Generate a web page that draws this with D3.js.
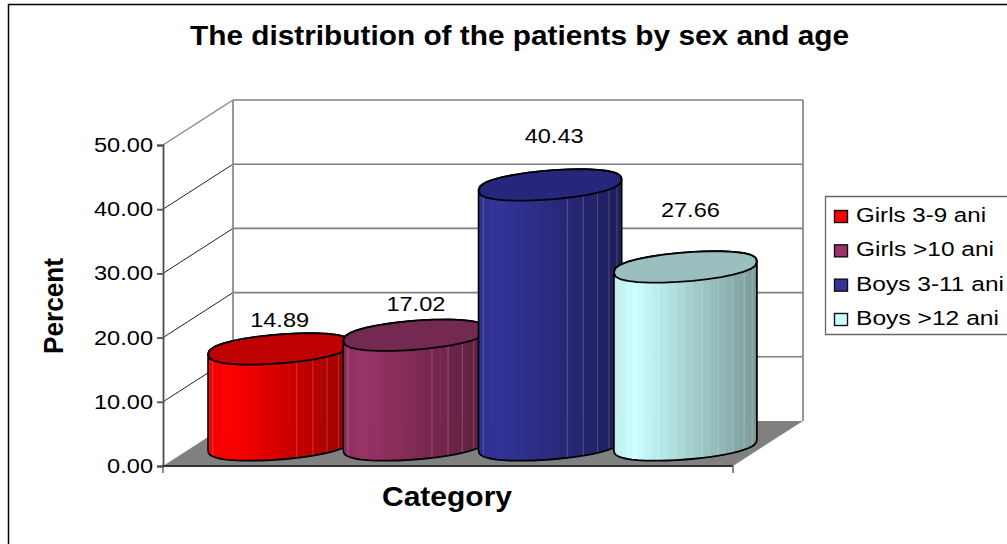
<!DOCTYPE html>
<html>
<head>
<meta charset="utf-8">
<script src="https://cdn.jsdelivr.net/npm/d3@7"></script>
<style>
  html, body { margin: 0; padding: 0; background: #fff; }
  svg { display: block; }
  text { font-family: "Liberation Sans", Arial, sans-serif; fill: #000; }
</style>
</head>
<body>
<div id="chart"></div>
<script>
// chart data
var categories = ["Girls 3-9 ani", "Girls >10 ani", "Boys 3-11 ani", "Boys >12 ani"];
var values = [14.89, 17.02, 40.43, 27.66];
var yTicks = [0, 10, 20, 30, 40, 50];

// styles, one per category
var sideColors = ["#ff0000", "#993366", "#333399", "#ccffff"];
var topColors = ["#bf0000", "#732950", "#26267a", "#99bfbf"];
var labelLift = [21, 23, 41, 49];

var width = 1007, height = 544;
var depthX = 70, depthY = -45;
var barRx = 71.5, facets = 26;

var svg = d3.select("#chart").append("svg")
    .attr("width", width)
    .attr("height", height);
var defs = svg.append("defs");

var y = d3.scaleLinear().domain([0, 50]).range([466, 145]);
var x = d3.scaleBand().domain(categories).range([212, 753]);
var floorLeft = 163, floorRight = 733;

// squeezes or stretches a text to the width it has in the picture
function fitText(sel, w) {
    sel.attr("textLength", w).attr("lengthAdjust", "spacingAndGlyphs");
}

// outer frame, runs off the right and bottom of the picture
svg.append("path")
    .attr("d", "M8.5," + height + "V4.5H" + width)
    .attr("fill", "none").attr("stroke", "#000").attr("stroke-width", 1.5);

// floor
svg.append("path")
    .attr("d", d3.line()([
        [floorLeft, y(0)], [floorRight, y(0)],
        [floorRight + depthX, y(0) + depthY], [floorLeft + depthX, y(0) + depthY]
    ]) + "Z")
    .attr("fill", "#808080");

// side wall lines
svg.append("g").selectAll("line")
    .data(yTicks.slice(1))
    .enter().append("line")
    .attr("x1", floorLeft).attr("x2", floorLeft + depthX)
    .attr("y1", function(d) { return y(d); })
    .attr("y2", function(d) { return y(d) + depthY; })
    .attr("stroke", function(d) { return d == 50 ? "#868686" : "#222"; })
    .attr("stroke-width", function(d) { return d == 50 ? 1.4 : 1; });

// back wall lines
svg.append("g").selectAll("line")
    .data(yTicks.slice(1))
    .enter().append("line")
    .attr("x1", floorLeft + depthX).attr("x2", floorRight + depthX)
    .attr("y1", function(d) { return y(d) + depthY; })
    .attr("y2", function(d) { return y(d) + depthY; })
    .attr("stroke", "#808080").attr("stroke-width", 1.6);

svg.append("g").selectAll("line")
    .data([floorLeft + depthX, floorRight + depthX])
    .enter().append("line")
    .attr("x1", function(d) { return d; }).attr("x2", function(d) { return d; })
    .attr("y1", y(50) + depthY).attr("y2", y(0) + depthY)
    .attr("stroke", "#8c8c8c").attr("stroke-width", 1.8);

// y axis
var yAxis = svg.append("g")
    .attr("transform", "translate(" + floorLeft + ",0)")
    .call(d3.axisLeft(y).tickValues(yTicks).tickSize(6).tickPadding(4).tickFormat(d3.format(".2f")));
yAxis.selectAll("path, line").attr("stroke", "#4d4d4d").attr("stroke-width", 1.8);
yAxis.selectAll("text")
    .attr("font-size", 20.5)
    .each(function() { fitText(d3.select(this), this.getComputedTextLength() * 1.15); });

// x axis
svg.append("line")
    .attr("x1", floorLeft - 1).attr("x2", floorRight)
    .attr("y1", y(0)).attr("y2", y(0))
    .attr("stroke", "#333").attr("stroke-width", 2.2);
svg.append("g").selectAll("line")
    .data([floorLeft, floorRight])
    .enter().append("line")
    .attr("x1", function(d) { return d; }).attr("x2", function(d) { return d; })
    .attr("y1", y(0)).attr("y2", y(0) + 7)
    .attr("stroke", "#666").attr("stroke-width", 1.5);

// points of the tilted ellipse, from angle a0 to a1. The power keeps the
// ends a bit fuller, like the cylinders in the picture
function ellipsePoints(cx, cy, a0, a1, n) {
    return d3.range(n + 1).map(function(i) {
        var a = a0 + (a1 - a0) * i / n;
        var c = Math.cos(a), s = Math.sin(a);
        var sp = (s < 0 ? -1 : 1) * Math.pow(Math.abs(s), 0.8);
        return [cx + barRx * c, cy + 14.5 * sp - 5.5 * c];
    });
}

var bars = svg.append("g").selectAll("g")
    .data(categories)
    .enter().append("g");

bars.each(function(c, i) {
    var g = d3.select(this);
    var cx = x(c) + x.bandwidth() / 2;
    var cyTop = y(values[i]) + depthY / 2 + 1;
    var cyBottom = y(0) + depthY / 2 + 1.5;
    var line = d3.line();

    var outline = line(ellipsePoints(cx, cyBottom, 0, Math.PI, 26)
        .concat(ellipsePoints(cx, cyTop, Math.PI, 2 * Math.PI, 26))) + "Z";

    defs.append("clipPath").attr("id", "body" + i)
        .append("path").attr("d", outline);

    // facets of the cylinder side, light on the left and dark on the right
    var shade = d3.scaleLinear().domain([0, 0.14, 1]).range([0.93, 1, 0.6]);
    var edges = d3.range(facets + 1).map(function(k) {
        return cx - barRx * Math.cos(Math.PI * k / facets);
    });
    var base = d3.rgb(sideColors[i]);
    var side = g.append("g").attr("clip-path", "url(#body" + i + ")");
    side.selectAll("rect")
        .data(d3.range(facets))
        .enter().append("rect")
        .attr("x", function(k) { return edges[k]; })
        .attr("width", function(k) { return edges[k + 1] - edges[k] + 0.6; })
        .attr("y", cyTop - 30)
        .attr("height", cyBottom - cyTop + 60)
        .attr("fill", function(k) {
            var s = shade((edges[k] + edges[k + 1]) / 2 / (2 * barRx) - (cx - barRx) / (2 * barRx));
            return d3.rgb(base.r * s, base.g * s, base.b * s);
        });
    // thin light seams between some facets
    side.selectAll("line")
        .data(edges.filter(function(e, k) { return k > 0 && k < facets && (k < 4 || k > 14) && k % 2 == 1; }))
        .enter().append("line")
        .attr("x1", function(d) { return d; }).attr("x2", function(d) { return d; })
        .attr("y1", cyTop - 30).attr("y2", cyBottom + 30)
        .attr("stroke", "#fff").attr("stroke-opacity", 0.2).attr("stroke-width", 1);

    g.append("path")
        .attr("d", outline)
        .attr("fill", "none").attr("stroke", "#000").attr("stroke-width", 1.8).attr("stroke-linejoin", "round");

    g.append("path")
        .attr("d", line(ellipsePoints(cx, cyTop, 0, 2 * Math.PI, 30)) + "Z")
        .attr("fill", topColors[i])
        .attr("stroke", "#000").attr("stroke-width", 1.8).attr("stroke-linejoin", "round");
});

// value labels
svg.append("g").selectAll("text")
    .data(values)
    .enter().append("text")
    .attr("x", function(d, i) { return x(categories[i]) + x.bandwidth() / 2 + [0, 1, 4, 5][i]; })
    .attr("y", function(d, i) { return y(d) + depthY / 2 - labelLift[i]; })
    .attr("text-anchor", "middle")
    .attr("font-size", 20.5)
    .text(function(d) { return d3.format(".2f")(d); })
    .each(function() { fitText(d3.select(this), 59); });

// titles
svg.append("text")
    .attr("x", 190).attr("y", 45)
    .attr("font-size", 27).attr("font-weight", "bold")
    .text("The distribution of the patients by sex and age")
    .call(fitText, 659);
svg.append("text")
    .attr("x", 382).attr("y", 506)
    .attr("font-size", 27).attr("font-weight", "bold")
    .text("Category")
    .call(fitText, 130);
svg.append("text")
    .attr("transform", "translate(63,354) rotate(-90)")
    .attr("font-size", 27).attr("font-weight", "bold")
    .text("Percent")
    .call(fitText, 96);

// legend
var legendWidths = [130, 138, 148, 143];
var legendY = d3.scalePoint().domain(categories).range([222, 325]);

svg.append("path")
    .attr("d", "M" + width + ",196.5H825.5V334.5H" + width)
    .attr("fill", "#fff").attr("stroke", "#666").attr("stroke-width", 1.3);

var legend = svg.append("g").selectAll("g")
    .data(categories)
    .enter().append("g")
    .attr("transform", function(d) { return "translate(0," + legendY(d) + ")"; });
legend.append("rect")
    .attr("x", 834.5).attr("y", -11.5).attr("width", 13).attr("height", 12)
    .attr("fill", function(d, i) { return sideColors[i]; })
    .attr("stroke", "#111").attr("stroke-width", 1.4);
legend.append("text")
    .attr("x", 856)
    .attr("font-size", 20.5)
    .text(function(d) { return d; })
    .each(function(d, i) { fitText(d3.select(this), legendWidths[i]); });
</script>
</body>
</html>
